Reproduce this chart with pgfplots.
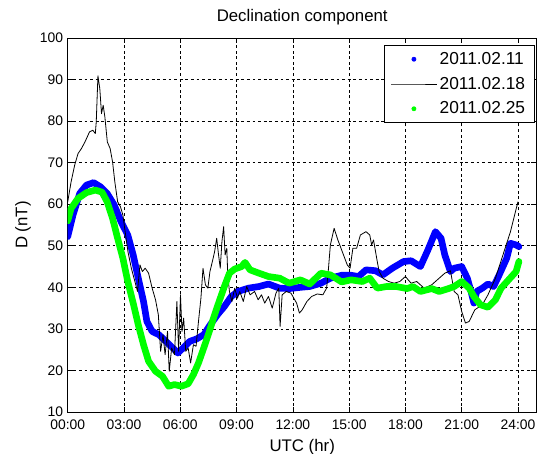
\documentclass[border=0pt]{standalone}
\usepackage{fontspec}
\setmainfont{Liberation Sans}
\usepackage{pgfplots}
\pgfplotsset{compat=1.18}

\definecolor{mblue}{RGB}{0,0,255}
\definecolor{mgreen}{RGB}{0,255,0}

\begin{document}
\begin{tikzpicture}
\begin{axis}[
    at={(0,0)}, anchor=south west,
    scale only axis,
    width=351.75pt, height=280.5pt,
    xmin=0, xmax=25, ymin=10, ymax=100,
    xtick={0,3,...,24},
    xticklabels={00:00,03:00,06:00,09:00,12:00,15:00,18:00,21:00,24:00},
    ytick={10,20,...,100},
    tick align=inside,
    major tick length=4pt,
    tick style={black, line width=0.5pt},
    axis line style={black, line width=0.6pt},
    grid=major,
    major grid style={black, line width=0.5pt, dash pattern=on 2.2pt off 2pt},
    ticklabel style={font=\fontsize{10.4}{12}\selectfont},
    xticklabel style={yshift=-2pt},
    /pgf/number format/assume math mode=true,
    xlabel={UTC (hr)},
    ylabel={D (nT)},
    title={Declination component},
    every axis title/.style={at={(axis description cs:0.5,1.056)}, anchor=center, font=\fontsize{12.6}{14}\selectfont},
    every axis x label/.style={at={(axis description cs:0.5,-0.094)}, anchor=center, font=\fontsize{12.6}{14}\selectfont},
    every axis y label/.style={at={(axis description cs:-0.0952,0.5)}, rotate=90, anchor=center, font=\fontsize{12.6}{14}\selectfont},
    legend style={at={(axis description cs:0.996,0.981)}, anchor=north east,
        font=\fontsize{13}{15}\selectfont, draw=black, line width=0.6pt, fill=white,
        inner xsep=5pt, inner ysep=3pt, row sep=4pt},
    legend cell align=left,
    legend image code/.code={\draw[mark repeat=2,mark phase=2] plot coordinates {(0pt,0pt) (17pt,0pt) (34pt,0pt)};},
]

% 2011.02.11
\addplot[mblue, line width=5pt, line join=round, line cap=round, forget plot]
coordinates {
    (0,52.2) (0.28,57.4) (0.64,62.6) (1.0,64.6) (1.38,65.2) (1.74,64.2) (2.1,62.6)
    (2.48,59.8) (2.84,55.8) (3.2,52.6) (3.49,47.8) (3.76,42.2) (4.04,36.6) (4.22,31.8)
    (4.5,29.4) (4.86,28.6) (5.23,27.0) (5.6,25.4) (5.87,24.2) (6.15,25.4) (6.51,27.0)
    (6.88,27.6) (7.25,28.6) (7.6,31.0) (7.98,33.4) (8.35,35.4) (8.72,37.8) (9.08,39.0)
    (9.63,39.8) (10.2,40.2) (10.7,40.8) (11.3,39.8) (11.8,39.7) (12.4,40.0) (12.9,40.2)
    (13.5,41.0) (14.0,42.2) (14.6,42.9) (15.1,42.9) (15.5,42.6) (15.9,44.2) (16.4,44.0)
    (16.8,43.0) (17.3,44.6) (17.9,46.2) (18.3,46.4) (18.8,45.0) (19.2,49.0) (19.6,53.4)
    (19.9,51.8) (20.1,47.8) (20.4,43.8) (20.6,44.6) (21.0,45.0) (21.3,42.2) (21.5,39.0)
    (21.65,36.2) (21.8,39.0) (22.1,39.8) (22.4,40.8) (22.7,40.2) (23.0,43.0) (23.4,47.0)
    (23.6,50.6) (23.9,50.2) (24.05,49.8)
};

% 2011.02.18
\addplot[black, line width=0.6pt, line join=round, forget plot]
coordinates {
    (0,60.6) (0.18,65.4) (0.37,69.4) (0.55,72.2) (0.73,73.4) (0.92,75.0) (1.16,77.4)
    (1.34,77.8) (1.47,77.0) (1.52,79.8) (1.61,90.9) (1.71,87.8) (1.8,81.8) (1.89,83.8)
    (1.98,81.0) (2.11,75.0) (2.26,73.4) (2.39,70.2) (2.51,65.4) (2.66,60.6) (2.81,59.4)
    (2.94,57.4) (3.06,53.4) (3.21,48.6) (3.39,44.6) (3.58,41.4) (3.72,39.0) (3.85,45.4)
    (3.98,43.8) (4.13,44.6) (4.31,43.4) (4.5,39.8) (4.68,37.0) (4.83,33.4) (4.95,24.6)
    (5.08,28.6) (5.19,23.8) (5.32,29.4) (5.41,19.8) (5.54,25.4) (5.69,23.8) (5.82,36.6)
    (5.91,24.6) (6.01,38.2) (6.09,29.4) (6.18,32.6) (6.29,24.6) (6.42,25.4) (6.55,21.8)
    (6.7,26.2) (6.84,25.8) (6.97,31.8) (7.1,37.4) (7.21,44.6) (7.34,40.6) (7.47,39.8)
    (7.58,43.8) (7.71,46.2) (7.83,48.6) (7.94,51.8) (8.04,47.8) (8.13,44.6) (8.22,51.0)
    (8.31,54.6) (8.39,47.8) (8.48,49.4) (8.53,43.0) (8.62,39.0) (8.75,36.6) (8.9,39.8)
    (9.05,37.4) (9.17,39.0) (9.36,36.6) (9.54,40.2) (9.72,38.2) (9.96,39.0) (10.15,37.0)
    (10.33,38.2) (10.5,36.2) (10.7,37.8) (10.9,35.0) (11.1,38.6) (11.25,39.8) (11.32,30.6)
    (11.43,38.2) (11.65,39.0) (11.9,38.6) (12.2,36.2) (12.35,33.8) (12.5,34.6) (12.75,36.6)
    (13.0,37.8) (13.3,38.4) (13.6,38.2) (13.8,39.8) (13.9,44.6) (14.0,50.2) (14.2,54.2)
    (14.4,51.4) (14.7,47.8) (14.9,45.4) (15.05,44.6) (15.2,49.4) (15.4,49.4) (15.6,52.6)
    (15.9,53.4) (16.1,52.6) (16.2,50.2) (16.3,51.4) (16.5,46.2) (16.6,43.8) (16.8,42.2)
    (17.1,41.4) (17.4,41.0) (17.7,41.4) (18.0,42.6) (18.3,41.0) (18.6,41.4) (19.0,39.8)
    (19.4,40.6) (19.7,41.8) (20.1,43.4) (20.4,44.0) (20.6,39.0) (20.8,38.2) (21.0,34.2)
    (21.2,31.4) (21.4,31.8) (21.7,34.6) (22.1,35.8) (22.4,38.2) (22.8,42.2) (23.2,47.8)
    (23.6,53.4) (24.0,60.6)
};

% 2011.02.25
\addplot[mgreen, line width=5pt, line join=round, line cap=round, forget plot]
coordinates {
    (0,56.0) (0.18,59.0) (0.55,61.4) (1.0,62.8) (1.47,63.4) (1.83,62.9) (2.1,60.6)
    (2.39,56.6) (2.66,51.8) (2.94,47.0) (3.2,41.4) (3.49,36.2) (3.76,31.0) (4.04,26.2)
    (4.31,22.2) (4.68,19.8) (5.05,18.6) (5.38,16.2) (5.69,16.6) (6.06,16.2) (6.42,16.8)
    (6.7,19.0) (6.97,21.8) (7.25,25.4) (7.52,29.0) (7.8,33.0) (8.07,36.6) (8.35,40.2)
    (8.62,43.4) (8.9,44.4) (9.27,45.0) (9.45,46.0) (9.72,44.2) (10.2,43.4) (10.7,42.6)
    (11.3,42.2) (11.8,41.0) (12.4,41.8) (12.9,40.8) (13.5,43.4) (14.0,43.0) (14.6,41.3)
    (15.1,41.8) (15.7,41.4) (16.1,42.2) (16.5,39.8) (17.0,40.2) (17.5,40.2) (18.1,39.7)
    (18.4,40.2) (18.8,39.0) (19.4,39.7) (19.8,39.0) (20.3,39.7) (20.6,40.2) (21.0,41.4)
    (21.4,39.8) (21.65,37.8) (22.0,35.8) (22.4,35.2) (22.8,37.0) (23.1,39.8) (23.5,41.8)
    (23.9,43.8) (24.05,46.2)
};

\addlegendimage{only marks, mark=*, mark size=1.5pt, mblue}
\addlegendentry{2011.02.11}
\addlegendimage{black, line width=0.6pt}
\addlegendentry{2011.02.18}
\addlegendimage{only marks, mark=*, mark size=1.5pt, mgreen}
\addlegendentry{2011.02.25}

\end{axis}
\pgfresetboundingbox
\useasboundingbox (-50.8pt,-31.5pt) rectangle (357.2pt,309pt);
\end{tikzpicture}
\end{document}
